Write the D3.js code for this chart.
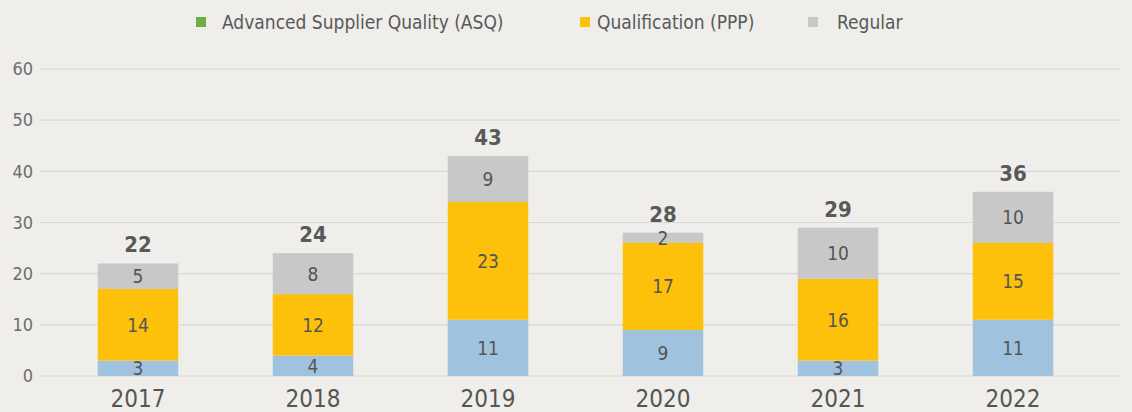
<!DOCTYPE html>
<html><head><meta charset="utf-8">
<script src="https://cdn.jsdelivr.net/npm/d3@7"></script>
<style>
body{margin:0;background:#efeeeb;}
svg{display:block;font-family:"DejaVu Sans Condensed","DejaVu Sans",sans-serif;}
</style></head>
<body><svg id="c" width="1132" height="412"></svg>
<script>
const years = ["2017","2018","2019","2020","2021","2022"];
const asq = [3,4,11,9,3,11];
const ppp = [14,12,23,17,16,15];
const regular = [5,8,9,2,10,10];
const totals = [22,24,43,28,29,36];
const seriesNames = ["Advanced Supplier Quality (ASQ)","Qualification (PPP)","Regular"];
const yTicks = [0,10,20,30,40,50,60];

const barColors = ["#9fc2de","#fdc00b","#c8c8c8"];
const legendColors = ["#70ad47","#fdc00b","#c8c8c8"];

const svg = d3.select("#c");
const x = d3.scaleBand().domain(years).range([50.5,1100.5]).paddingInner(0.54).paddingOuter(0.27);
const y = d3.scaleLinear().domain([0,60]).range([376,69]);

// gridlines
svg.append("g").selectAll("line").data(yTicks).join("line")
  .attr("x1",40).attr("x2",1120).attr("y1",d=>y(d)).attr("y2",d=>y(d))
  .attr("stroke","#d9d8d5").attr("stroke-width",1.2);

// y axis labels
const yAxis = svg.append("g").attr("transform","translate(33,0)")
  .call(d3.axisLeft(y).tickValues(yTicks).tickSize(0).tickPadding(0));
yAxis.select(".domain").remove();
yAxis.selectAll("text").attr("font-size",18).attr("fill","#6d6d6d").attr("font-family","DejaVu Sans Condensed, sans-serif");

// stacked data
const rows = years.map((yr,i)=>({year:yr, a:asq[i], p:ppp[i], r:regular[i]}));
const stack = d3.stack().keys(["a","p","r"])(rows);

const g = svg.append("g");
stack.forEach((layer,k)=>{
  g.append("g").selectAll("rect").data(layer).join("rect")
    .attr("x",d=>x(d.data.year)).attr("width",x.bandwidth())
    .attr("y",d=>y(d[1])).attr("height",d=>y(d[0])-y(d[1]))
    .attr("fill",barColors[k]);
  g.append("g").selectAll("text").data(layer).join("text")
    .attr("x",d=>x(d.data.year)+x.bandwidth()/2)
    .attr("y",d=>(y(d[0])+y(d[1]))/2)
    .attr("dy","0.36em").attr("text-anchor","middle")
    .attr("font-size",19).attr("fill","#555")
    .text(d=>d[1]-d[0]);
});

// totals
g.append("g").selectAll("text").data(rows).join("text")
  .attr("x",d=>x(d.year)+x.bandwidth()/2)
  .attr("y",(d,i)=>y(d.a+d.p+d.r)-11)
  .attr("text-anchor","middle").attr("font-size",22).attr("font-weight","bold").attr("fill","#595959")
  .text((d,i)=>totals[i]);

// x axis
const xAxis = svg.append("g").attr("transform","translate(0,376)")
  .call(d3.axisBottom(x).tickSize(0).tickPadding(14));
xAxis.select(".domain").remove();
xAxis.selectAll("text").attr("font-size",24).attr("fill","#555").attr("font-family","DejaVu Sans Condensed, sans-serif");

// legend
const legX = [196,580,808];
const legTextX = [222,597,837];
const leg = svg.append("g");
seriesNames.forEach((n,i)=>{
  leg.append("rect").attr("x",legX[i]).attr("y",17).attr("width",10).attr("height",10).attr("fill",legendColors[i]);
  leg.append("text").attr("x",legTextX[i]).attr("y",22).attr("dy","0.35em")
    .attr("font-size",19).attr("fill","#595959").text(n);
});
</script></body></html>
